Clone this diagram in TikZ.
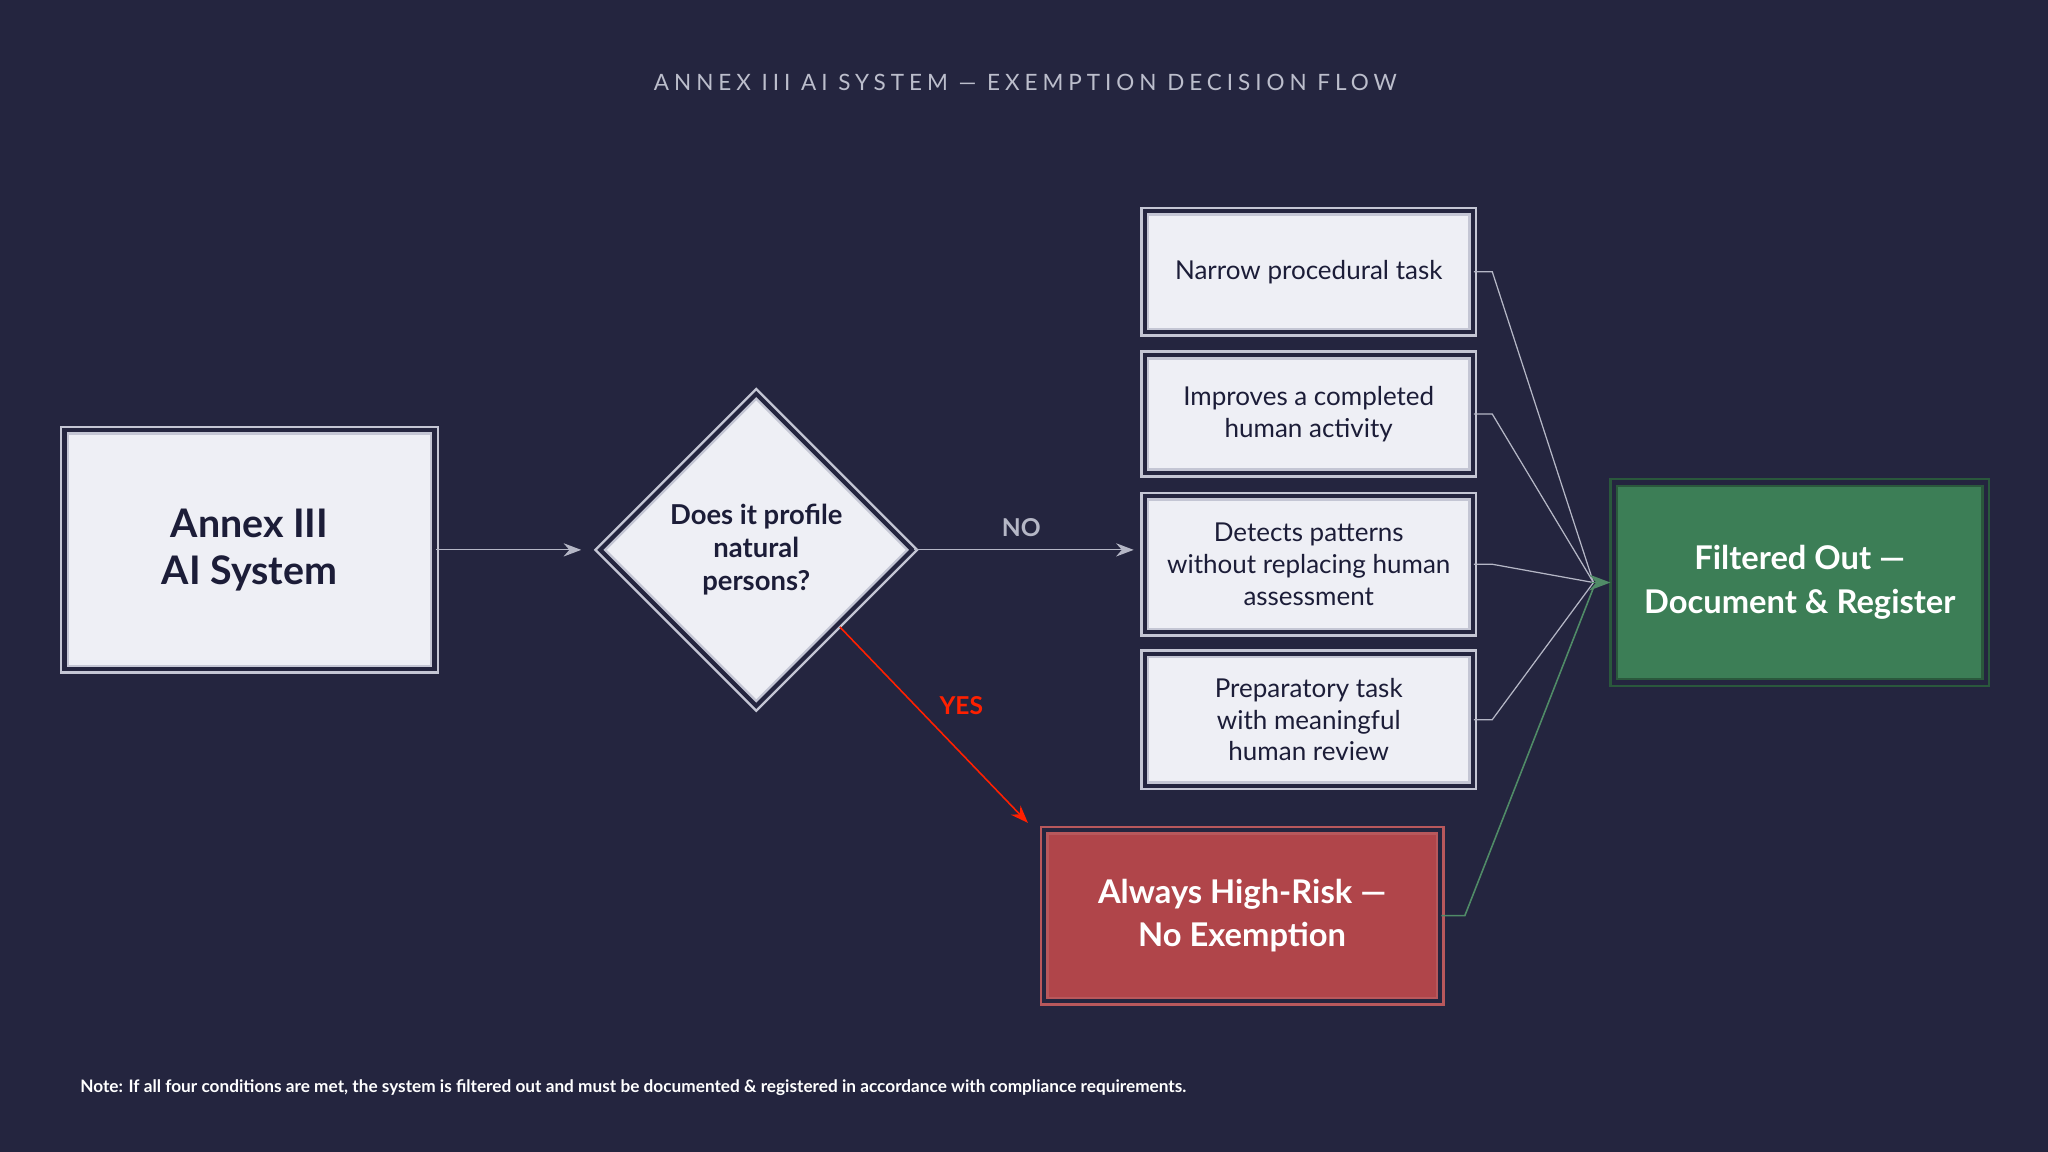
\documentclass[tikz,border=0pt]{standalone}
\usepackage{fontspec}
\setmainfont{Lato}
\usetikzlibrary{shapes.geometric,arrows.meta}
\definecolor{bgc}{HTML}{24253F}
\definecolor{boxc}{HTML}{EEEFF5}
\definecolor{edgec}{HTML}{C4C6D4}
\definecolor{inkc}{HTML}{1C1D38}
\definecolor{greenc}{HTML}{3C7E56}
\definecolor{redc}{HTML}{B0454A}
\definecolor{linec}{HTML}{B5B7C6}
\tikzset{
  frame/.style={draw=edgec, double=bgc, double distance=1.2pt, line width=0.7pt, fill=boxc, text=inkc, align=center},
  cond/.style={frame, minimum width=3.28cm, font=\fontsize{7.4}{9}\selectfont},
  link/.style={draw=linec, line width=0.35pt}
}
\begin{document}
\begin{tikzpicture}[x=0.013061cm, y=-0.013061cm]
\fill[bgc] (0,0) rectangle (1568,882);
\node[text=linec!90, font=\fontsize{6.4}{8}\selectfont] (title) at (785,63) {\addfontfeature{LetterSpace=22}ANNEX III AI SYSTEM — EXEMPTION DECISION FLOW};

\node[frame, minimum width=3.70cm, minimum height=2.39cm, font=\bfseries\fontsize{11.2}{13.5}\selectfont] (annex) at (191,421) {Annex III\\AI System};
\node[frame, diamond, minimum width=3.13cm, minimum height=3.13cm, inner sep=0pt, font=\bfseries\fontsize{7.8}{9.4}\selectfont] (q) at (579,421) {Does it profile\\natural\\persons?};

\node[cond, minimum height=1.21cm] (c1) at (1002,208) {Narrow procedural task};
\node[cond, minimum height=1.18cm] (c2) at (1002,317) {Improves a completed\\human activity};
\node[cond, minimum height=1.36cm] (c3) at (1002,432) {Detects patterns\\without replacing human\\assessment};
\node[cond, minimum height=1.32cm] (c4) at (1002,551) {Preparatory task\\with meaningful\\human review};

\node[draw=greenc!70!black, double=bgc, double distance=1.2pt, line width=0.7pt, fill=greenc, text=white, minimum width=3.72cm, minimum height=2.0cm, align=center, font=\bfseries\fontsize{9.3}{12.5}\selectfont] (out) at (1378,446) {Filtered Out —\\Document \& Register};
\node[draw=redc!90!white, double=bgc, double distance=1.2pt, line width=0.7pt, fill=redc, text=white, minimum width=3.96cm, minimum height=1.71cm, align=center, font=\bfseries\fontsize{9.3}{12}\selectfont] (risk) at (951,701) {Always High-Risk —\\No Exemption};

\coordinate (tip) at (1233,446);
\draw[link, -{Stealth[length=5pt]}] (annex) -- (445,421);
\draw[link, -{Stealth[length=5pt]}] (q.east) -- (868,421);
\node[text=linec, font=\bfseries\fontsize{7}{8}\selectfont] (no) at (782,404) {NO};
\draw[red!75!orange, line width=0.45pt, -{Stealth[length=5pt]}] (643,480) -- (787,630);
\node[text=red!75!orange, font=\bfseries\fontsize{7}{8}\selectfont] (yes) at (736,540) {YES};

\foreach \c in {c1,c2,c3,c4}
  \draw[link] (\c.east) -- ++(14,0) -- (1220,446);
\draw[greenc!90!white, line width=0.45pt] (risk.east) -- ++(18,0) -- (1220,450);
\draw[greenc!90!white, line width=0.5pt, -{Stealth[length=6pt]}] (1218,446) -- (tip);

\node[anchor=west, text=white, font=\bfseries\fontsize{4.9}{6}\selectfont] (note) at (52,833) {Note: If all four conditions are met, the system is filtered out and must be documented \& registered in accordance with compliance requirements.};
\end{tikzpicture}
\end{document}
